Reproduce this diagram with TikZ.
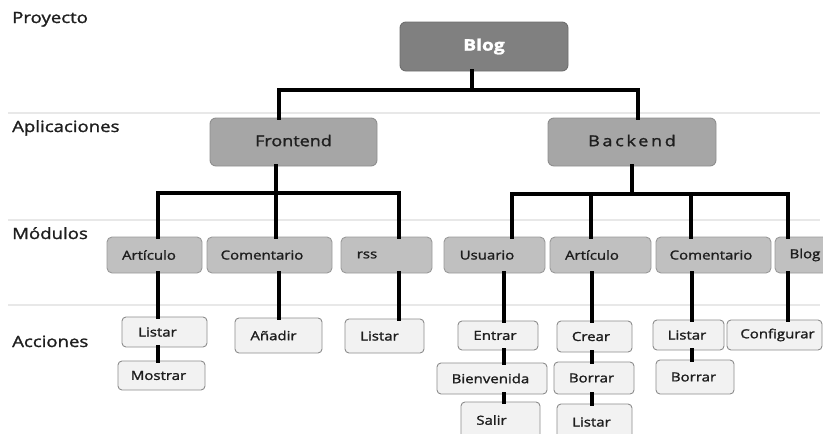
\documentclass[tikz,border=0pt]{standalone}
\usepackage{fontspec}
\setmainfont[FakeStretch=1.2, FakeBold=1.5]{Open Sans}
\usetikzlibrary{calc}
\definecolor{topfill}{HTML}{808080}
\definecolor{topdraw}{HTML}{6E6E6E}
\definecolor{appfill}{HTML}{A6A6A6}
\definecolor{appdraw}{HTML}{8E8E8E}
\definecolor{modfill}{HTML}{C0C0C0}
\definecolor{moddraw}{HTML}{9A9A9A}
\definecolor{actfill}{HTML}{F2F2F2}
\definecolor{actdraw}{HTML}{8C8C8C}
\definecolor{sepline}{HTML}{E8E8E8}
\definecolor{txt}{HTML}{1E1E1E}
\begin{document}
\begin{tikzpicture}[x=1pt,y=-1pt,
  box/.style={inner sep=0pt, outer sep=0pt, line width=0.9pt, text=txt},
  topbox/.style={box, fill=topfill, draw=topdraw, rounded corners=6pt, text=white,
     font=\fontsize{16}{18}\selectfont\bfseries},
  appbox/.style={box, fill=appfill, draw=appdraw, rounded corners=6pt,
     font=\fontsize{15}{17}\selectfont},
  modbox/.style={box, fill=modfill, draw=moddraw, rounded corners=5pt,
     font=\fontsize{12.5}{14}\selectfont},
  actbox/.style={box, fill=actfill, draw=actdraw, rounded corners=4pt,
     font=\fontsize{12.5}{14}\selectfont},
  lvl/.style={anchor=base west, inner sep=0pt, text=txt,
     font=\fontsize{15.5}{17}\selectfont},
  conn/.style={line width=3.2pt, draw=black, line join=miter, line cap=rect},
  sep/.style={line width=1.5pt, draw=sepline}
]
\useasboundingbox (0,0) rectangle (823,434);
\clip (0,0) rectangle (823,434);

% separator lines
\draw[sep] (8,113) -- (820,113);
\draw[sep] (8,220) -- (820,220);
\draw[sep] (8,305) -- (820,305);

% level labels
\node[lvl] (lproj) at (12,23) {Proyecto};
\node[lvl] (lapp) at (12,132) {Aplicaciones};
\node[lvl] (lmod) at (12,239) {Módulos};
\node[lvl] (lacc) at (12,347) {Acciones};

% column and bus coordinates
\coordinate (busA) at (0,90);
\coordinate (busB) at (0,193);
\coordinate (busC) at (0,194);
\coordinate (cBlog) at (472,0);
\coordinate (cFr) at (279,0);
\coordinate (cBe) at (638,0);
\coordinate (cFr2) at (276,0);
\coordinate (cBe2) at (632,0);
\coordinate (cA) at (158,0);
\coordinate (cC) at (279,0);
\coordinate (cR) at (399,0);
\coordinate (cU) at (512,0);
\coordinate (cU2) at (504,0);
\coordinate (cAB) at (591,0);
\coordinate (cAB2) at (592,0);
\coordinate (cCB) at (691,0);
\coordinate (cCB2) at (692,0);
\coordinate (cBM) at (788,0);

% nodes
\node[topbox, minimum width=168pt, minimum height=49pt] (blog) at (484,46.5) {Blog};
\node[appbox, minimum width=167pt, minimum height=48pt] (fr) at (293.5,142) {\raisebox{3pt}{Frontend}};
\node[appbox, minimum width=168pt, minimum height=48pt] (be) at (632,142)
  {\raisebox{3pt}{\addfontfeature{LetterSpace=18}Backend}};

\node[modbox, minimum width=95pt, minimum height=36pt] (artF) at (154.5,255) {Artículo\hspace*{11pt}};
\node[modbox, minimum width=125pt, minimum height=36pt] (comF) at (269.5,255) {Comentario\hspace*{15pt}};
\node[modbox, minimum width=91pt, minimum height=36pt] (rss) at (386.5,255) {rss\hspace*{39pt}};
\node[modbox, minimum width=101pt, minimum height=36pt] (usr) at (494.5,255) {Usuario\hspace*{15pt}};
\node[modbox, minimum width=101pt, minimum height=36pt] (artB) at (600.5,255) {Artículo\hspace*{17pt}};
\node[modbox, minimum width=115pt, minimum height=36pt] (comB) at (713.5,255) {Comentario\hspace*{5pt}};
\node[modbox, minimum width=60pt, minimum height=36pt] (blogM) at (805,255) {\raisebox{2pt}{Blog}};

\node[actbox, minimum width=85pt, minimum height=30pt] (lisF) at (164.5,332) {Listar\hspace*{14pt}};
\node[actbox, minimum width=87pt, minimum height=29pt] (mos) at (161.5,375.5) {Mostrar\hspace*{6pt}};
\node[actbox, minimum width=87pt, minimum height=35pt] (ana) at (278.5,335.5) {Añadir\hspace*{10pt}};
\node[actbox, minimum width=79pt, minimum height=34pt] (lisR) at (384.5,336) {Listar\hspace*{10pt}};
\node[actbox, minimum width=80pt, minimum height=29pt] (ent) at (498,335.5) {Entrar\hspace*{6pt}};
\node[actbox, minimum width=110pt, minimum height=31pt] (bien) at (492,378.5) {Bienvenida\hspace*{3pt}};
\node[actbox, minimum width=79pt, minimum height=38pt] (sal) at (500.5,421) {\raisebox{2pt}{Salir}\hspace*{18pt}};
\node[actbox, minimum width=75pt, minimum height=31pt] (cre) at (594.5,336.5) {Crear\hspace*{7pt}};
\node[actbox, minimum width=80pt, minimum height=32pt] (borA) at (594,378) {Borrar\hspace*{5pt}};
\node[actbox, minimum width=75pt, minimum height=36pt] (lisA) at (594.5,422) {Listar\hspace*{6pt}};
\node[actbox, minimum width=71pt, minimum height=30pt] (lisC) at (688.5,335) {Listar\hspace*{3pt}};
\node[actbox, minimum width=78pt, minimum height=34pt] (borC) at (695,377) {Borrar\hspace*{3pt}};
\node[actbox, minimum width=95pt, minimum height=30pt] (conf) at (774.5,335) {\hspace*{6pt}Configurar};

% level 1
\draw[conn] (blog.south -| cBlog) -- (busA -| cBlog);
\draw[conn] (fr.north -| cFr) |- (busA -| cBe) -- (be.north -| cBe);
% frontend
\draw[conn] (fr.south -| cFr2) -- (busB -| cFr2);
\draw[conn] (artF.north -| cA) |- (busB -| cR) -- (rss.north -| cR);
\draw[conn] (busB -| cFr2) -- (comF.north -| cFr2);
% backend
\draw[conn] (be.south -| cBe2) -- (busC -| cBe2);
\draw[conn] (usr.north -| cU) |- (busC -| cBM) -- (blogM.north -| cBM);
\draw[conn] (busC -| cAB) -- (artB.north -| cAB);
\draw[conn] (busC -| cCB) -- (comB.north -| cCB);
% modules to actions
\draw[conn] (artF.south -| cA) -- (lisF.north -| cA);
\draw[conn] (lisF.south -| cA) -- (mos.north -| cA);
\draw[conn] (comF.south -| cC) -- (ana.north -| cC);
\draw[conn] (rss.south -| cR) -- (lisR.north -| cR);
\draw[conn] (usr.south -| cU2) -- (ent.north -| cU2);
\draw[conn] (ent.south -| cU2) -- (bien.north -| cU2);
\draw[conn] (bien.south -| cU2) -- (sal.north -| cU2);
\draw[conn] (artB.south -| cAB2) -- (cre.north -| cAB2);
\draw[conn] (cre.south -| cAB2) -- (borA.north -| cAB2);
\draw[conn] (borA.south -| cAB2) -- (lisA.north -| cAB2);
\draw[conn] (comB.south -| cCB2) -- (lisC.north -| cCB2);
\draw[conn] (lisC.south -| cCB2) -- (borC.north -| cCB2);
\draw[conn] (blogM.south -| cBM) -- (conf.north -| cBM);
\end{tikzpicture}
\end{document}
